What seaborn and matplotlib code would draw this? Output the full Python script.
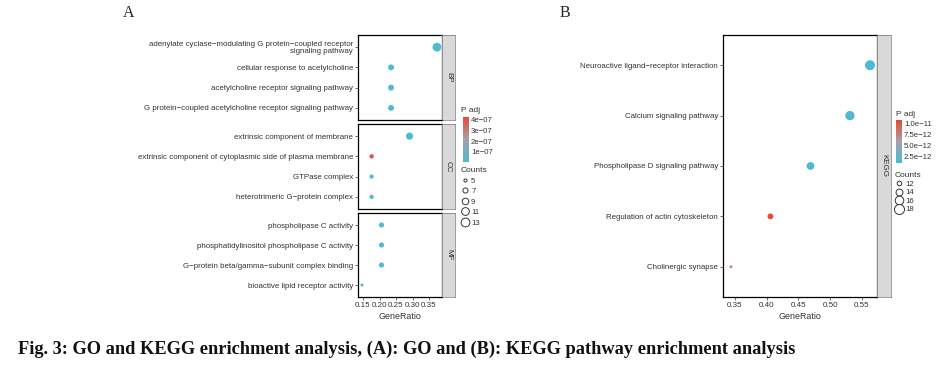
import numpy as np
import pandas as pd
import matplotlib.pyplot as plt
import seaborn as sns
from matplotlib.colors import LinearSegmentedColormap, Normalize
from matplotlib.cm import ScalarMappable
from matplotlib.lines import Line2D

W, H = 948, 366

# GO enrichment (panel A)
go_terms = [
    "adenylate cyclase\u2212modulating G protein\u2212coupled receptor\nsignaling pathway",
    "cellular response to acetylcholine",
    "acetylcholine receptor signaling pathway",
    "G protein\u2212coupled acetylcholine receptor signaling pathway",
    "extrinsic component of membrane",
    "extrinsic component of cytoplasmic side of plasma membrane",
    "GTPase complex",
    "heterotrimeric G\u2212protein complex",
    "phospholipase C activity",
    "phosphatidylinositol phospholipase C activity",
    "G\u2212protein beta/gamma\u2212subunit complex binding",
    "bioactive lipid receptor activity",
]
go_category = ["BP"] * 4 + ["CC"] * 4 + ["MF"] * 4
go_ratio = [0.374, 0.235, 0.235, 0.235, 0.291, 0.176, 0.176, 0.176, 0.206, 0.206, 0.206, 0.147]
go_count = [13, 8, 8, 8, 10, 6, 6, 6, 7, 7, 7, 5]
go_padj = [1.2e-08, 1.5e-08, 1.5e-08, 1.5e-08, 2.0e-08, 4.2e-07, 1.8e-08, 1.8e-08,
           1.0e-08, 1.0e-08, 1.0e-08, 8.0e-09]
go_cb_ticks = [1e-07, 2e-07, 3e-07, 4e-07]
go_cb_labels = ["1e\u221207", "2e\u221207", "3e\u221207", "4e\u221207"]
go_size_breaks = [5, 7, 9, 11, 13]

# KEGG enrichment (panel B)
kegg_terms = [
    "Neuroactive ligand\u2212receptor interaction",
    "Calcium signaling pathway",
    "Phospholipase D signaling pathway",
    "Regulation of actin cytoskeleton",
    "Cholinergic synapse",
]
kegg_ratio = [0.5625, 0.531, 0.469, 0.406, 0.344]
kegg_count = [18, 17, 15, 13, 11]
kegg_padj = [1.0e-12, 1.5e-12, 1.2e-12, 1.07e-11, 8.0e-12]
kegg_cb_ticks = [2.5e-12, 5.0e-12, 7.5e-12, 1.0e-11]
kegg_cb_labels = ["2.5e\u221212", "5.0e\u221212", "7.5e\u221212", "1.0e\u221211"]
kegg_size_breaks = [12, 14, 16, 18]

caption = "Fig. 3: GO and KEGG enrichment analysis, (A): GO and (B): KEGG pathway enrichment analysis"

go = pd.DataFrame({"term": go_terms, "cat": go_category, "ratio": go_ratio,
                   "count": go_count, "padj": go_padj})
kegg = pd.DataFrame({"term": kegg_terms, "cat": "KEGG", "ratio": kegg_ratio,
                     "count": kegg_count, "padj": kegg_padj})

sns.set_style("white")
plt.rcParams["font.family"] = ["Liberation Sans", "DejaVu Sans"]

cmap = LinearSegmentedColormap.from_list("padj", ["#4DBBD5", "#A6A0A8", "#E64B35"])
txt = "#333333"


def rect(x0, y0, x1, y1):
    return [x0 / W, 1 - y1 / H, (x1 - x0) / W, (y1 - y0) / H]


def size_fn(c, lo, hi, smin, smax):
    return smin + (c - lo) / (hi - lo) * (smax - smin)


def facet(fig, df, box, strip_box, label, norm, size_norm, sizes, xlim, xticks, bottom):
    ax = fig.add_axes(rect(*box))
    sns.scatterplot(data=df, x="ratio", y="term", hue="padj", hue_norm=norm,
                    palette=cmap, size="count", size_norm=size_norm, sizes=sizes,
                    linewidth=0, legend=False, ax=ax)
    n = len(df)
    ax.set_ylim(n - 0.4, -0.6)
    ax.set_xlim(*xlim)
    ax.set_xticks(xticks)
    ax.set_ylabel("")
    for s in ax.spines.values():
        s.set_color("black")
        s.set_linewidth(0.9)
    ax.tick_params(axis="both", length=2, width=0.5, color=txt, labelsize=5.7,
                   labelcolor=txt, pad=1.5, left=True, bottom=bottom)
    for t in ax.get_yticklabels():
        t.set_horizontalalignment("right")
        t.set_multialignment("right")
        t.set_linespacing(0.95)
    if bottom:
        ax.set_xticklabels([f"{v:.2f}" for v in xticks], fontsize=5.8)
        ax.set_xlabel("GeneRatio", fontsize=6.4, color=txt, labelpad=2)
    else:
        ax.set_xticklabels([])
        ax.set_xlabel("")
    sx = fig.add_axes(rect(*strip_box))
    sx.set_facecolor("#D9D9D9")
    sx.set_xticks([])
    sx.set_yticks([])
    for s in sx.spines.values():
        s.set_color("#555555")
        s.set_linewidth(0.4)
    sx.text(0.5, 0.5, label, rotation=-90, ha="center", va="center",
            fontsize=5.8, color=txt, transform=sx.transAxes)
    return ax


def legends(fig, norm, cb_box, title_xy, ticks, labels, breaks, size_norm, sizes,
            counts_xy, spacing):
    fig.text(title_xy[0] / W, 1 - title_xy[1] / H, "P adj", fontsize=6,
             color=txt, va="center", ha="left")
    cax = fig.add_axes(rect(*cb_box))
    cb = fig.colorbar(ScalarMappable(norm=norm, cmap=cmap), cax=cax)
    cb.outline.set_visible(False)
    cb.set_ticks(ticks)
    cb.set_ticklabels(labels)
    cax.tick_params(length=1.5, width=0.4, color="white", labelsize=5.6,
                    labelcolor=txt, pad=1.5, direction="in")
    handles = [Line2D([], [], linestyle="", marker="o",
                      markersize=np.sqrt(size_fn(b, size_norm[0], size_norm[1], *sizes)),
                      markerfacecolor="white", markeredgecolor="#333333",
                      markeredgewidth=0.7) for b in breaks]
    leg = fig.legend(handles, [str(b) for b in breaks], loc="upper left",
                     bbox_to_anchor=(counts_xy[0] / W, 1 - counts_xy[1] / H),
                     frameon=False, title="Counts", fontsize=5.6,
                     title_fontsize=6, labelspacing=spacing, handletextpad=0.3,
                     handlelength=1.0, borderpad=0, borderaxespad=0,
                     alignment="left")
    for t in leg.get_texts():
        t.set_color(txt)
    leg.get_title().set_color(txt)


fig = plt.figure(figsize=(W / 100, H / 100), dpi=100)

# Panel A
go_norm = Normalize(min(go_padj), max(go_padj))
go_sn = (min(go_count), max(go_count))
go_sizes = (5, 40)
go_xlim = (0.1348, 0.3894)
go_xticks = [0.15, 0.20, 0.25, 0.30, 0.35]
facet_rows = [("BP", 35, 120), ("CC", 124, 209), ("MF", 213, 297)]
for cat, y0, y1 in facet_rows:
    facet(fig, go[go.cat == cat].reset_index(drop=True), (358, y0, 442, y1),
          (442, y0, 455, y1), cat, go_norm, go_sn, go_sizes, go_xlim, go_xticks,
          bottom=(cat == "MF"))
legends(fig, go_norm, (463, 117, 469, 162), (461, 111), go_cb_ticks, go_cb_labels,
        go_size_breaks, go_sn, go_sizes, (461, 167), 0.4)

# Panel B
kegg_norm = Normalize(min(kegg_padj), max(kegg_padj))
kegg_sn = (min(kegg_count), max(kegg_count))
kegg_sizes = (4, 52)
facet(fig, kegg, (723, 35, 877, 297), (877, 35, 891, 297), "KEGG", kegg_norm,
      kegg_sn, kegg_sizes, (0.3315, 0.5735), [0.35, 0.40, 0.45, 0.50, 0.55], bottom=True)
legends(fig, kegg_norm, (896, 120, 902, 163), (896, 114), kegg_cb_ticks, kegg_cb_labels,
        kegg_size_breaks, kegg_sn, kegg_sizes, (895, 172), 0.15)

fig.text(123 / W, 1 - 13 / H, "A", family=["Liberation Serif"], fontsize=11.5,
         va="center", ha="left")
fig.text(560 / W, 1 - 13 / H, "B", family=["Liberation Serif"], fontsize=11.5,
         va="center", ha="left")
fig.text(18 / W, 1 - 349 / H, caption, family=["Liberation Serif"], fontweight="bold",
         fontsize=13.2, va="center", ha="left", color="#111111")

fig.savefig("out.png", dpi=100)
